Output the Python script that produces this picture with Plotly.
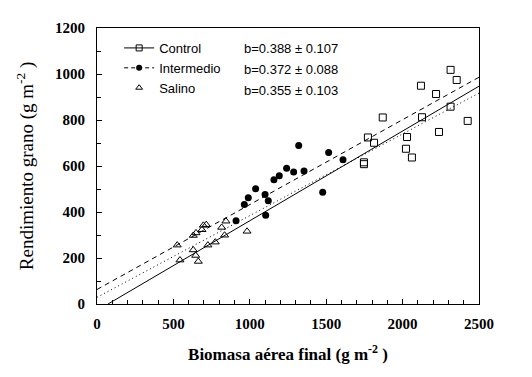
import plotly.graph_objects as go

# --- data ---
control_x = [2314, 2354, 2120, 2219, 1870, 2127, 2314, 2426, 1773, 1813, 2029, 2238, 2022, 2061, 1747, 1747]
control_y = [1018, 974, 949, 913, 811, 812, 858, 796, 724, 701, 726, 748, 675, 637, 608, 616]

inter_x = [910, 964, 990, 1038, 1100, 1121, 1104, 1158, 1193, 1241, 1287, 1320, 1355, 1477, 1516, 1610]
inter_y = [362, 433, 462, 501, 476, 449, 386, 540, 558, 590, 574, 689, 578, 486, 659, 627]

salino_x = [525, 543, 630, 648, 687, 696, 715, 630, 646, 663, 726, 774, 816, 835, 844, 982]
salino_y = [256, 191, 298, 309, 323, 342, 345, 235, 211, 185, 256, 269, 333, 299, 360, 316]

# fitted lines (end points)
control_fit_x = [72, 2500]
control_fit_y = [0, 947]
inter_fit_x = [0, 2500]
inter_fit_y = [63, 986]
salino_fit_x = [0, 2500]
salino_fit_y = [29, 917]

series_names = ["Control", "Intermedio", "Salino"]
slopes = ["b=0.388 ± 0.107", "b=0.372 ± 0.088", "b=0.355 ± 0.103"]

x_ticks = [0, 500, 1000, 1500, 2000, 2500]
y_ticks = [0, 200, 400, 600, 800, 1000, 1200]

fig = go.Figure()

# regression lines
fig.add_trace(go.Scatter(x=control_fit_x, y=control_fit_y, mode="lines",
                         line=dict(color="black", width=1), showlegend=False))
fig.add_trace(go.Scatter(x=inter_fit_x, y=inter_fit_y, mode="lines",
                         line=dict(color="black", width=1, dash="5px,4px"), showlegend=False))
fig.add_trace(go.Scatter(x=salino_fit_x, y=salino_fit_y, mode="lines",
                         line=dict(color="black", width=1, dash="1px,3px"), showlegend=False))

# points
fig.add_trace(go.Scatter(x=control_x, y=control_y, mode="markers", showlegend=False,
                         marker=dict(symbol="square-open", size=7, color="black", line=dict(width=1))))
fig.add_trace(go.Scatter(x=inter_x, y=inter_y, mode="markers", showlegend=False,
                         marker=dict(symbol="circle", size=7, color="black")))
fig.add_trace(go.Scatter(x=salino_x, y=salino_y, mode="markers", showlegend=False,
                         marker=dict(symbol="triangle-up-open", size=7, color="black", line=dict(width=1))))

# legend entries
fig.add_trace(go.Scatter(x=[None], y=[None], mode="lines+markers", name=series_names[0],
                         line=dict(color="black", width=1),
                         marker=dict(symbol="square-open", size=6, color="black")))
fig.add_trace(go.Scatter(x=[None], y=[None], mode="lines+markers", name=series_names[1],
                         line=dict(color="black", width=1, dash="4px,3px"),
                         marker=dict(symbol="circle", size=6, color="black")))
fig.add_trace(go.Scatter(x=[None], y=[None], mode="markers", name=series_names[2],
                         marker=dict(symbol="triangle-up-open", size=6, color="black")))

for i, s in enumerate(slopes):
    fig.add_annotation(x=0.38, y=[0.925, 0.848, 0.772][i], xref="paper", yref="paper",
                       text=s, showarrow=False, xanchor="left", yanchor="middle",
                       font=dict(family="Liberation Sans, Arial", size=13, color="black"))

axis_common = dict(
    showgrid=False, zeroline=False, showline=True, linecolor="black", linewidth=1,
    mirror=True, ticks="inside", ticklen=5, tickcolor="black", tickwidth=1,
    tickfont=dict(family="Liberation Serif, Times New Roman", size=15, color="black", weight="bold"),
)

fig.update_xaxes(range=[0, 2500], tickvals=x_ticks, ticktext=[str(v) for v in x_ticks],
                 minor=dict(dtick=100, ticks="inside", ticklen=4, tickcolor="black"),
                 title_text="Biomasa aérea final (g m<sup>-2</sup> )", title_standoff=17,
                 title_font=dict(family="Liberation Serif, Times New Roman", size=17, color="black", weight="bold"),
                 ticklabelstandoff=6, **axis_common)
fig.update_yaxes(range=[0, 1200], tickvals=y_ticks, ticktext=[str(v) for v in y_ticks],
                 minor=dict(dtick=100, ticks="inside", ticklen=4, tickcolor="black"),
                 title_text="Rendimiento grano (g m<sup>-2</sup> )", title_standoff=16,
                 title_font=dict(family="Liberation Serif, Times New Roman", size=19, color="black"),
                 ticklabelstandoff=8, **axis_common)

# page body has an 8px default margin; margins compensate for it
fig.update_layout(
    width=532, height=377,
    margin=dict(l=89, r=61, t=15, b=81),
    plot_bgcolor="white", paper_bgcolor="white",
    legend=dict(x=0.058, y=0.982, xanchor="left", yanchor="top", bgcolor="rgba(0,0,0,0)",
                font=dict(family="Liberation Sans, Arial", size=13, color="black"),
                itemwidth=30, tracegroupgap=0),
)

fig.write_html("out.html")
